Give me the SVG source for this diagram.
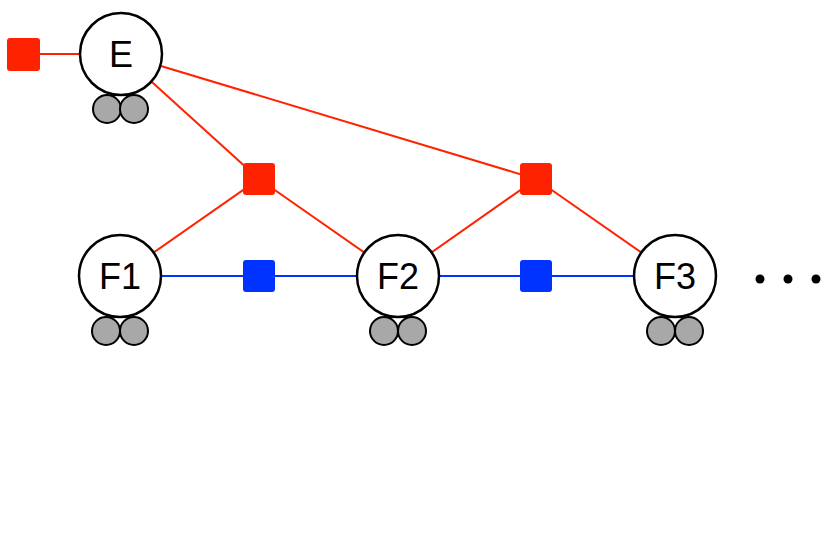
<svg xmlns="http://www.w3.org/2000/svg" width="830" height="552" viewBox="0 0 830 552">
<style>
.red{stroke:#ff2200;stroke-width:2;fill:none}
.blue{stroke:#0033ff;stroke-width:2;fill:none}
.node{fill:#fff;stroke:#000;stroke-width:2.5}
.pin{fill:#a8a8a8;stroke:#000;stroke-width:2}
.lbl{font-family:"Liberation Sans",Arial,sans-serif;font-size:36px;text-anchor:middle;fill:#000}
.fr{fill:#ff2200}
.fb{fill:#0033ff}
</style>
<rect width="830" height="552" fill="#fff"/>
<g id="connectors">
<line class="red" x1="23" y1="54" x2="121" y2="54"/>
<line class="red" x1="121" y1="54" x2="259" y2="179"/>
<line class="red" x1="121" y1="54" x2="536" y2="179"/>
<line class="red" x1="120" y1="276" x2="259" y2="179"/>
<line class="red" x1="398" y1="276" x2="259" y2="179"/>
<line class="red" x1="398" y1="276" x2="536" y2="179"/>
<line class="red" x1="675" y1="276" x2="536" y2="179"/>
<line class="blue" x1="120" y1="276" x2="675" y2="276"/>
</g>
<g id="fE0"><rect class="fr" x="7" y="38" width="33" height="33" rx="3"/></g>
<g id="fEF1"><rect class="fr" x="243" y="163" width="32" height="32" rx="3"/></g>
<g id="fEF2"><rect class="fr" x="520" y="163" width="32" height="32" rx="3"/></g>
<g id="fF12"><rect class="fb" x="243" y="260" width="32" height="32" rx="3"/></g>
<g id="fF23"><rect class="fb" x="520" y="260" width="32" height="32" rx="3"/></g>
<g id="E">
<circle class="pin" cx="107" cy="109" r="14"/><circle class="pin" cx="134" cy="109" r="14"/>
<circle class="node" cx="121" cy="54" r="41"/>
<text class="lbl" x="121" y="67">E</text>
</g>
<g id="F1">
<circle class="pin" cx="106" cy="331" r="14"/><circle class="pin" cx="134" cy="331" r="14"/>
<circle class="node" cx="120" cy="276" r="41"/>
<text class="lbl" x="120" y="289">F1</text>
</g>
<g id="F2">
<circle class="pin" cx="384" cy="331" r="14"/><circle class="pin" cx="412" cy="331" r="14"/>
<circle class="node" cx="398" cy="276" r="41"/>
<text class="lbl" x="398" y="289">F2</text>
</g>
<g id="F3">
<circle class="pin" cx="661" cy="331" r="14"/><circle class="pin" cx="689" cy="331" r="14"/>
<circle class="node" cx="675" cy="276" r="41"/>
<text class="lbl" x="675" y="289">F3</text>
</g>
<g id="ellipsis">
<circle cx="760" cy="279" r="4.5" fill="#000"/>
<circle cx="788" cy="279" r="4.5" fill="#000"/>
<circle cx="816" cy="279" r="4.5" fill="#000"/>
</g>
</svg>
